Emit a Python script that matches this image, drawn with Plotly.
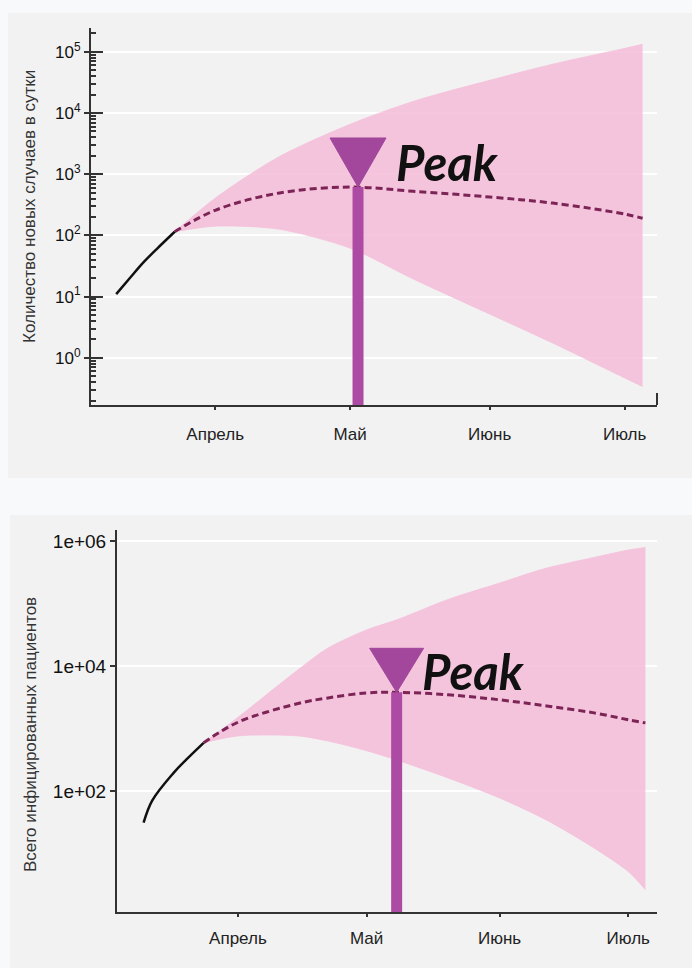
import numpy as np
import pandas as pd
import plotly.graph_objects as go

# ---------------- data: daily new cases (top panel) ----------------
obs_dates_new = ["2020-03-10", "2020-03-13", "2020-03-16", "2020-03-19", "2020-03-23"]
obs_new = [11, 20, 36, 60, 115]

fc_dates_new = ["2020-03-23", "2020-04-01", "2020-04-15", "2020-05-01", "2020-05-15",
                "2020-06-01", "2020-06-15", "2020-07-01", "2020-07-05"]
fc_new_median = [115, 258, 491, 617, 528, 425, 338, 224, 191]
fc_new_upper = [115, 407, 1900, 6570, 15500, 34300, 63000, 114000, 133000]
fc_new_lower = [115, 142, 127, 62, 19.5, 5.2, 1.75, 0.47, 0.34]
peak_new_date, peak_new_value = "2020-05-02 18:00", 620

# ---------------- data: total infected (bottom panel) ----------------
obs_dates_tot = ["2020-03-10", "2020-03-12", "2020-03-17", "2020-03-20", "2020-03-24"]
obs_tot = [31, 70, 195, 320, 590]

fc_dates_tot = ["2020-03-24", "2020-04-01", "2020-04-15", "2020-04-22", "2020-05-01", "2020-05-08",
                "2020-05-20", "2020-06-01", "2020-06-12", "2020-06-23", "2020-07-01", "2020-07-05"]
fc_tot_median = [590, 1260, 2510, 3090, 3720, 3800, 3470, 2880, 2290, 1780, 1380, 1230]
fc_tot_upper = [590, 1510, 8700, 19500, 38000, 55000, 117000, 214000, 372000, 550000, 724000, 794000]
fc_tot_lower = [590, 760, 760, 630, 440, 313, 161, 77, 34, 12.2, 5.1, 2.6]
peak_tot_date, peak_tot_value = "2020-05-08", 3800

# ---------------- axis labels ----------------
month_ticks = ["2020-04-01", "2020-05-01", "2020-06-01", "2020-07-01"]
month_labels = ["Апрель", "Май", "Июнь", "Июль"]
new_tickvals = [1, 10, 100, 1e3, 1e4, 1e5]
new_ticktext = ["10<sup>0</sup>", "10<sup>1</sup>", "10<sup>2</sup>",
                "10<sup>3</sup>", "10<sup>4</sup>", "10<sup>5</sup>"]
tot_tickvals = [1e2, 1e4, 1e6]
tot_ticktext = ["1e+02", "1e+04", "1e+06"]
title_new = "Количество новых случаев в сутки"
title_tot = "Всего инфицированных пациентов"
peak_label = "Peak"

# ---------------- styling ----------------
W, H = 692, 968
PAGE = "#f8f9fb"
PANEL = "#f2f2f2"
BAND = "rgba(245,188,217,0.85)"
MEDIAN = "#7d2456"
PEAK = "#a2479c"
STEM = "#ad4aa3"
AXIS = "#333333"
FONT = "Liberation Sans, Arial, sans-serif"


def px_x(x):
    return x / W


def px_y(y):
    return 1 - y / H


def date_range(start_days, end_days):
    base = pd.Timestamp("2020-04-01")
    return [(base + pd.Timedelta(days=start_days)).strftime("%Y-%m-%d %H:%M:%S"),
            (base + pd.Timedelta(days=end_days)).strftime("%Y-%m-%d %H:%M:%S")]


top_yrange = [-0.77, 5.39]
bot_yrange = [0.06, 6.18]

fig = go.Figure()


def add_panel(xa, ya, obs_d, obs_v, fc_d, med, up, lo, pk_d, pk_v, yr):
    fig.add_trace(go.Scatter(x=fc_d, y=lo, mode="lines",
                             line=dict(width=0.8, color=BAND, shape="spline", smoothing=0.8),
                             xaxis=xa, yaxis=ya, showlegend=False, hoverinfo="skip"))
    fig.add_trace(go.Scatter(x=fc_d, y=up, mode="lines",
                             line=dict(width=0.8, color=BAND, shape="spline", smoothing=0.8),
                             fill="tonexty", fillcolor=BAND,
                             xaxis=xa, yaxis=ya, showlegend=False, hoverinfo="skip"))
    fig.add_trace(go.Scatter(x=fc_d, y=med, mode="lines",
                             line=dict(width=3, color=MEDIAN, dash="7px,4px", shape="spline"),
                             xaxis=xa, yaxis=ya, showlegend=False))
    fig.add_trace(go.Scatter(x=obs_d, y=obs_v, mode="lines",
                             line=dict(width=2.5, color="#111111", shape="spline"),
                             xaxis=xa, yaxis=ya, showlegend=False))
    fig.add_trace(go.Scatter(x=[pk_d, pk_d], y=[10 ** yr[0], pk_v], mode="lines",
                             line=dict(width=11, color=STEM),
                             xaxis=xa, yaxis=ya, showlegend=False))


add_panel("x", "y", obs_dates_new, obs_new, fc_dates_new, fc_new_median, fc_new_upper,
          fc_new_lower, peak_new_date, peak_new_value, top_yrange)
add_panel("x2", "y2", obs_dates_tot, obs_tot, fc_dates_tot, fc_tot_median, fc_tot_upper,
          fc_tot_lower, peak_tot_date, peak_tot_value, bot_yrange)

# invisible carrier so the tick-only overlay axis is drawn
fig.add_trace(go.Scatter(x=[fc_dates_new[0]], y=[fc_new_median[0]], mode="markers",
                         marker=dict(size=1, opacity=0), xaxis="x", yaxis="y3",
                         showlegend=False, hoverinfo="skip"))

# minor log ticks for the daily-cases axis
minor_vals = [m * 10.0 ** e for e in range(-1, 6) for m in range(2, 10)
              if top_yrange[0] <= np.log10(m * 10.0 ** e) <= top_yrange[1]]

tickfont_x = dict(family=FONT, size=17, color="#222222")
tickfont_y = dict(family=FONT, size=17, color="#111111")
tickfont_y2 = dict(family=FONT, size=19, color="#111111")
xdom = [px_x(91), px_x(657)]
ydom_top = [px_y(405), px_y(28)]
xdom2 = [px_x(117), px_x(657)]
ydom_bot = [px_y(912), px_y(530)]

fig.update_layout(
    width=W, height=H,
    margin=dict(l=0, r=0, t=0, b=0),
    paper_bgcolor=PAGE,
    plot_bgcolor="rgba(0,0,0,0)",
    showlegend=False,
    xaxis=dict(domain=xdom, anchor="y", type="date", range=date_range(-27.6, 98.2),
               tickmode="array", tickvals=month_ticks, ticktext=month_labels,
               ticks="outside", ticklen=3, tickwidth=2, tickcolor=AXIS,
               showline=True, linecolor=AXIS, linewidth=2, showgrid=False, zeroline=False,
               tickfont=tickfont_x, ticklabelstandoff=10),
    yaxis=dict(domain=ydom_top, anchor="x", type="log", range=top_yrange,
               tickmode="array", tickvals=new_tickvals, ticktext=new_ticktext,
               ticks="outside", ticklen=5, tickwidth=2, tickcolor=AXIS,
               showline=True, linecolor=AXIS, linewidth=2,
               showgrid=True, gridcolor="#ffffff", gridwidth=2, zeroline=False,
               tickfont=tickfont_y),
    yaxis3=dict(domain=ydom_top, anchor="x", overlaying="y", side="left", type="log",
                range=top_yrange,
                tickmode="array", tickvals=new_tickvals, showticklabels=False,
                ticks="inside", ticklen=12, tickwidth=2, tickcolor=AXIS,
                minor=dict(tickmode="array", tickvals=minor_vals, ticks="inside",
                           ticklen=5, tickwidth=2, tickcolor=AXIS, showgrid=False),
                showgrid=False, showline=False, zeroline=False),
    xaxis2=dict(domain=xdom2, anchor="y2", type="date", range=date_range(-28.2, 97.7),
                tickmode="array", tickvals=month_ticks, ticktext=month_labels,
                ticks="outside", ticklen=3, tickwidth=2, tickcolor=AXIS,
                showline=True, linecolor=AXIS, linewidth=2, showgrid=False, zeroline=False,
                tickfont=tickfont_x, ticklabelstandoff=7),
    yaxis2=dict(domain=ydom_bot, anchor="x2", type="log", range=bot_yrange,
                tickmode="array", tickvals=tot_tickvals, ticktext=tot_ticktext,
                ticks="outside", ticklen=5, tickwidth=2, tickcolor=AXIS,
                showline=True, linecolor=AXIS, linewidth=2,
                showgrid=True, gridcolor="#ffffff", gridwidth=2, zeroline=False,
                tickfont=tickfont_y2),
)

# grey panels behind each chart
shapes = [
    dict(type="rect", xref="paper", yref="paper", x0=px_x(8), x1=1.0, y0=px_y(478), y1=px_y(13),
         fillcolor=PANEL, line=dict(width=0), layer="below"),
    dict(type="rect", xref="paper", yref="paper", x0=px_x(10), x1=1.0, y0=0.0, y1=px_y(515),
         fillcolor=PANEL, line=dict(width=0), layer="below"),
    # end cap of the top x axis
    dict(type="line", xref="x domain", yref="y domain", x0=1, x1=1, y0=0, y1=0.032,
         line=dict(color=AXIS, width=2)),
]

# peak funnels: apex sits on the peak value, drawn with a fixed pixel size
for xa, ya, pd_, pv, w, h in [("x", "y", peak_new_date, peak_new_value, 56, 49),
                              ("x2", "y2", peak_tot_date, peak_tot_value, 54, 44)]:
    shapes.append(dict(type="path", xref=xa, yref=ya, xsizemode="pixel", ysizemode="pixel",
                       xanchor=pd_, yanchor=pv,
                       path=f"M{-w/2},{h} L{w/2},{h} L0,0 Z",
                       fillcolor=PEAK, line=dict(color=PEAK, width=1), layer="above"))
fig.update_layout(shapes=shapes)

peak_font = dict(family="Lato, Open Sans, sans-serif", size=49, color="#111111",
                 weight="bold", style="italic")
title_font = dict(family=FONT, size=17, color="#333333")
annotations = [
    dict(text=peak_label, x=peak_new_date, y=np.log10(peak_new_value), xref="x", yref="y",
         xanchor="left", yanchor="middle", xshift=36, yshift=25, showarrow=False, font=peak_font),
    dict(text=peak_label, x=peak_tot_date, y=np.log10(peak_tot_value), xref="x2", yref="y2",
         xanchor="left", yanchor="middle", xshift=23, yshift=21, showarrow=False, font=peak_font),
    dict(text=title_new, x=px_x(30), y=px_y(207), xref="paper", yref="paper", textangle=-90,
         xanchor="center", yanchor="middle", showarrow=False, font=title_font),
    dict(text=title_tot, x=px_x(30), y=px_y(735), xref="paper", yref="paper", textangle=-90,
         xanchor="center", yanchor="middle", showarrow=False, font=title_font),
]
fig.update_layout(annotations=annotations)

fig.write_html("out.html")
